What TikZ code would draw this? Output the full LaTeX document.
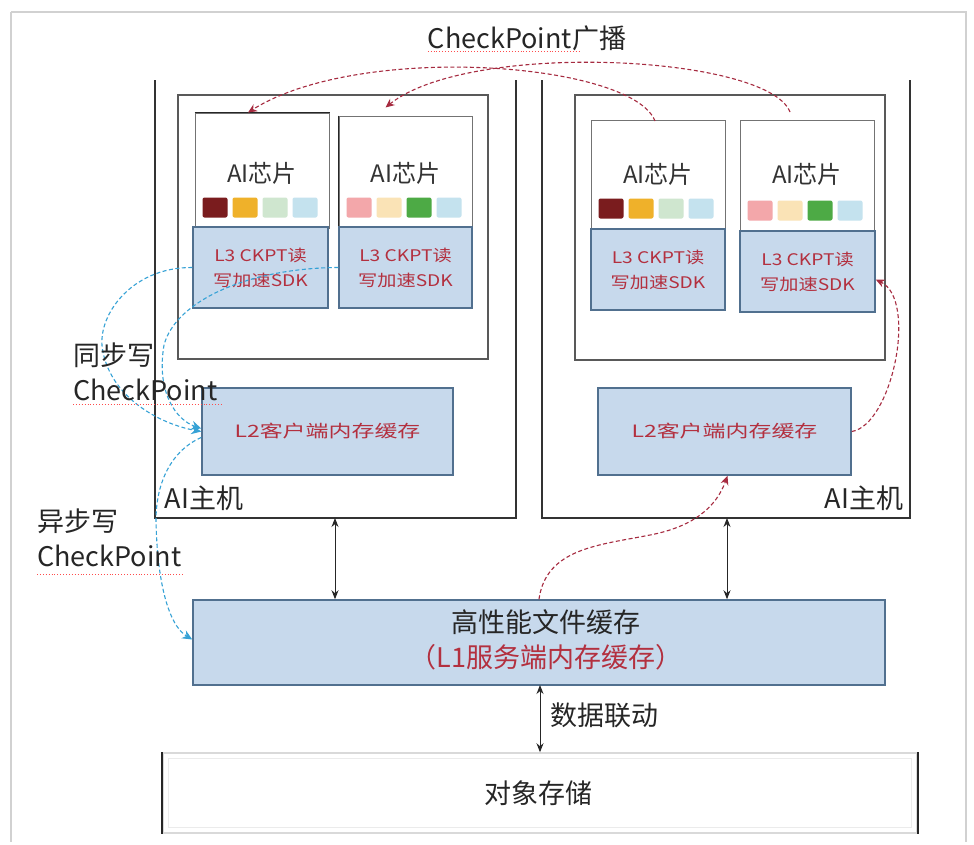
\documentclass[tikz,border=0pt]{standalone}
\usepackage{fontspec}
\usepackage{graphicx}
\setmainfont{Noto Sans CJK SC}
\usetikzlibrary{arrows.meta,calc}

\definecolor{boxblue}{HTML}{C7D9EC}
\definecolor{boxedge}{HTML}{51708F}
\definecolor{txtred}{HTML}{B3303F}
\definecolor{curvered}{HTML}{A62B40}
\definecolor{curveblue}{HTML}{36A2D6}
\definecolor{dotA}{HTML}{7A1C1E}
\definecolor{dotB}{HTML}{EFB12A}
\definecolor{dotC}{HTML}{CFE6CF}
\definecolor{dotD}{HTML}{C4E2EE}
\definecolor{dotE}{HTML}{F3A7AA}
\definecolor{dotF}{HTML}{FAE3B6}
\definecolor{dotG}{HTML}{4DAA45}

\newcommand\hstretch[2]{\scalebox{#1}[1]{#2}}
\newcommand\chipdots[5]{%
  \foreach \k/\col in {0/#2,1/#3,2/#4,3/#5}
    \fill[\col, rounded corners=2pt] ($(#1.south west)+(8+30*\k,-31)$) rectangle ++(25,20);}

\tikzset{
  hostline/.style={draw=black!80, line width=1.6pt},
  innerbox/.style={draw=black!65, line width=1.3pt, fill=white},
  chipbox/.style={draw=black!55, line width=1pt, fill=white},
  bluebox/.style={draw=boxedge, line width=1.5pt, fill=boxblue, inner sep=0pt},
  cjk/.style={font=\fontsize{27}{35}\selectfont, text=black!85, inner sep=0pt},
  chiplbl/.style={font=\fontsize{24}{28}\selectfont, text=black!80, inner sep=0pt},
  sdktext/.style={font=\fontsize{16}{25}\selectfont, text=txtred, align=center},
  bcast/.style={draw=curvered, line width=1.1pt, dash pattern=on 4pt off 2.5pt, -{Stealth[length=9pt,width=8pt]}},
  ckwrite/.style={draw=curveblue, line width=1.1pt, dash pattern=on 4pt off 2.5pt, -{Stealth[length=10pt,width=9pt]}},
  dual/.style={draw=black!85, line width=1pt, {Stealth[length=9pt,width=7pt]}-{Stealth[length=9pt,width=7pt]}},
  spell/.style={draw=red!70, line width=0.9pt, dotted},
}

\begin{document}
\begin{tikzpicture}[x=1pt,y=-1pt]
\useasboundingbox (0,0) rectangle (974,844);
\fill[white] (0,0) rectangle (974,844);
% outer page frame
\draw[black!18, line width=1.5pt] (11,12) -- (966,12) -- (966,842);
\draw[black!18, line width=1.5pt] (11,12) -- (11,842);

% the two AI hosts (open at the top)
\draw[hostline] (155,80) -- (155,518) -- (516,518) -- (516,80);
\draw[hostline] (542,80) -- (542,518) -- (910,518) -- (910,80);
\node[cjk, font=\fontsize{27}{30}\selectfont] (hostL) at (204,498) {AI主机};
\node[cjk, font=\fontsize{27}{30}\selectfont] (hostR) at (864,498) {AI主机};

% chip groups inside each host
\node[innerbox, minimum width=310pt, minimum height=264pt] (inL) at (333,227) {};
\node[innerbox, minimum width=310pt, minimum height=265pt] (inR) at (730,227.5) {};

% AI chips
\node[chipbox, minimum width=134pt, minimum height=115pt] (chip1) at (262,170.5) {};
\node[chipbox, minimum width=133pt, minimum height=112pt] (chip2) at (405.5,172) {};
\node[chipbox, minimum width=134pt, minimum height=109pt] (chip3) at (658,174.5) {};
\node[chipbox, minimum width=134pt, minimum height=111pt] (chip4) at (807,175.5) {};
\draw[black!85, line width=1.6pt] (chip1.north west) -- (chip1.north east);
\draw[black!85, line width=1.4pt] (chip2.north west) -- (chip2.south west);

\node[chiplbl] (t1) at (262,173) {AI芯片};
\node[chiplbl] (t2) at (405.5,173) {AI芯片};
\node[chiplbl] (t3) at (658,174) {AI芯片};
\node[chiplbl] (t4) at (807,174) {AI芯片};

\chipdots{chip1}{dotA}{dotB}{dotC}{dotD}
\chipdots{chip2}{dotE}{dotF}{dotG}{dotD}
\chipdots{chip3}{dotA}{dotB}{dotC}{dotD}
\chipdots{chip4}{dotE}{dotF}{dotG}{dotD}

% L3 SDK blocks
\node[bluebox, sdktext, minimum width=135pt, minimum height=81pt] (sdk1) at (260.5,267.5)
  {\hstretch{1.2}{L3 CKPT读}\\\hstretch{1.2}{写加速SDK}};
\node[bluebox, sdktext, minimum width=133pt, minimum height=81pt] (sdk2) at (405.5,267.5)
  {\hstretch{1.2}{L3 CKPT读}\\\hstretch{1.2}{写加速SDK}};
\node[bluebox, sdktext, minimum width=134pt, minimum height=81pt] (sdk3) at (658,269.5)
  {\hstretch{1.2}{L3 CKPT读}\\\hstretch{1.2}{写加速SDK}};
\node[bluebox, sdktext, minimum width=135pt, minimum height=81pt] (sdk4) at (807.5,271.5)
  {\hstretch{1.2}{L3 CKPT读}\\\hstretch{1.2}{写加速SDK}};

% L2 client memory caches
\node[bluebox, minimum width=251pt, minimum height=87pt, text=txtred, font=\fontsize{17}{20}\selectfont] (l2L) at (327.5,431.5)
  {\hstretch{1.35}{L2客户端内存缓存}};
\node[bluebox, minimum width=253pt, minimum height=87pt, text=txtred, font=\fontsize{17}{20}\selectfont] (l2R) at (724.5,431.5)
  {\hstretch{1.35}{L2客户端内存缓存}};

% L1 high performance file cache
\node[bluebox, minimum width=692pt, minimum height=85pt] (l1) at (539,642.5) {};
\node[cjk, align=center] (l1t) at (546,640)
  {高性能文件缓存\\\textcolor{txtred}{（L1服务端内存缓存）}};

% object storage
\node[draw=black!15, line width=1.5pt, minimum width=754pt, minimum height=80pt, inner sep=0pt] (obj) at (540,793) {};
\draw[black!8, line width=1pt] ($(obj.north west)+(6,6)$) rectangle ($(obj.south east)+(-6,-6)$);
\draw[black!85, line width=2.2pt] (obj.north west) -- (obj.south west);
\draw[black!85, line width=2.2pt] (obj.north east) -- (obj.south east);
\node[cjk] (objt) at (538,793) {对象存储};

% host <-> L1 and L1 <-> object storage links
\coordinate (hLb) at (335,518);
\coordinate (hRb) at (727,518);
\draw[dual] (hLb) -- (hLb |- l1.north);
\draw[dual] (hRb) -- (hRb |- l1.north);
\coordinate (l1b) at (540,685);
\draw[dual] (l1b) -- (l1b |- obj.north);
\node[cjk, anchor=west] (sync) at (550,715) {数据联动};

% checkpoint broadcast between hosts
\node[cjk, font=\fontsize{27}{30}\selectfont] (bc) at (527,38) {CheckPoint广播};
\draw[spell] ([yshift=-3pt]bc.base west) -- ++(152,0);
\coordinate (b1s) at (655,121);
\coordinate (b2s) at (790,112);
\draw[bcast] (b1s) .. controls (632,62) and (360,42) .. ([xshift=-14pt]chip1.north);
\draw[bcast] (b2s) .. controls (768,55) and (470,40) .. ([xshift=-20pt,yshift=8pt]chip2.north);

% restore path on the right host
\draw[bcast] (l2R.east) .. controls (892,425) and (918,300) .. ([yshift=-8pt]sdk4.east);
\draw[bcast] (l1.north) .. controls (546,548) and (600,545) .. (650,535)
  .. controls (692,527) and (716,508) .. ([xshift=3pt]l2R.south);

% synchronous checkpoint writes
\draw[ckwrite] (sdk1.west) .. controls (130,267) and (95,318) .. (103,352)
  .. controls (112,398) and (160,424) .. (l2L.west);
\draw[ckwrite] (sdk2.west) .. controls (250,268) and (176,300) .. (164,345)
  .. controls (156,392) and (176,420) .. ([yshift=3pt]l2L.west);
\node[cjk, anchor=north west, align=left] (syncl) at (73,343) {同步写\\CheckPoint};
\draw[spell] (73,404) -- (222,404);

% asynchronous checkpoint write
\draw[ckwrite] ([yshift=-6pt]l2L.west) .. controls (172,450) and (156,482) .. (156,520)
  .. controls (157,580) and (168,625) .. ([yshift=3pt]l1.west);
\node[cjk, anchor=north west, align=left] (asyncl) at (37,509) {异步写\\CheckPoint};
\draw[spell] (37,574) -- (183,574);
\end{tikzpicture}
\end{document}
